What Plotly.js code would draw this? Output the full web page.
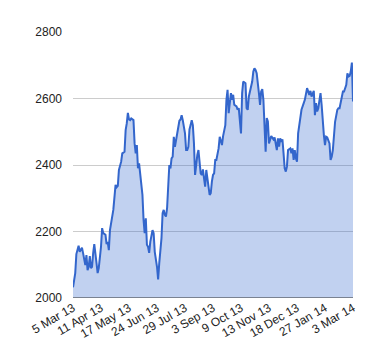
<!DOCTYPE html>
<html>
<head>
<meta charset="utf-8">
<script src="https://cdn.plot.ly/plotly-3.0.1.min.js"></script>
<style>html,body{margin:0;padding:0;background:#fff;}#chart{width:380px;height:360px;}</style>
</head>
<body>
<div id="chart"></div>
<script>
// trading-day index (0 = 5 Mar 13, 250 = 3 Mar 14)
const dayIndex = [0,2,3,5,6,8,9,11,12,13,14,15,16,17,18,19,21,22,23,25,26,27,29,30,31,32,33,35,36,38,39,40,41,43,44,46,47,48,49,50,51,52,54,55,56,57,58,59,60,61,62,63,64,65,66,67,68,69,71,72,73,75,76,77,78,79,80,81,82,83,84,85,86,87,88,89,90,91,92,93,94,95,96,97,98,100,101,102,103,104,105,106,107,108,109,110,111,112,113,114,115,116,117,118,119,120,121,122,123,124,125,126,127,128,130,131,132,133,134,135,136,137,138,139,140,141,142,143,144,146,147,148,150,151,152,154,155,156,157,158,160,161,162,163,164,166,167,168,169,170,171,172,173,174,175,176,177,179,180,182,183,184,185,186,187,188,189,190,191,192,194,195,196,197,198,199,200,201,203,204,206,207,209,210,211,212,213,215,216,217,218,219,220,221,222,223,224,225,226,227,229,230,231,232,233,234,236,237,238,240,241,242,244,245,246,247,248,249,250];
const closeValues = [2032,2075,2132,2157,2139,2151,2135,2099,2129,2084,2094,2126,2090,2094,2135,2162,2105,2075,2090,2154,2210,2195,2190,2162,2169,2144,2204,2255,2265,2340,2333,2337,2385,2410,2435,2440,2505,2525,2557,2537,2535,2540,2535,2465,2435,2460,2390,2405,2365,2340,2310,2235,2195,2240,2160,2154,2136,2169,2204,2195,2139,2094,2056,2104,2139,2180,2255,2265,2250,2245,2270,2345,2400,2390,2420,2425,2485,2455,2475,2485,2505,2533,2537,2550,2535,2495,2445,2445,2455,2507,2520,2535,2520,2465,2370,2410,2430,2445,2400,2375,2370,2387,2360,2335,2385,2365,2335,2310,2315,2350,2370,2375,2415,2415,2450,2485,2470,2460,2487,2510,2520,2596,2626,2556,2586,2616,2596,2611,2581,2576,2566,2571,2495,2616,2651,2646,2571,2566,2606,2621,2651,2681,2691,2686,2676,2616,2581,2621,2628,2596,2501,2440,2541,2531,2465,2475,2487,2477,2483,2445,2480,2455,2480,2470,2477,2435,2390,2380,2395,2445,2450,2435,2450,2415,2445,2420,2410,2495,2550,2566,2586,2596,2631,2621,2611,2623,2606,2623,2550,2586,2561,2571,2601,2616,2581,2520,2490,2460,2485,2483,2465,2415,2425,2445,2490,2530,2566,2571,2571,2606,2621,2621,2641,2676,2666,2668,2681,2708,2591];
const tickPositions = [0,25,50,75,100,125,150,175,200,225,250];
const tickLabels = ["5 Mar 13","11 Apr 13","17 May 13","24 Jun 13","29 Jul 13","3 Sep 13","9 Oct 13","13 Nov 13","18 Dec 13","27 Jan 14","3 Mar 14"];
const yTicks = [2000,2200,2400,2600,2800];

Plotly.newPlot('chart', [{
  x: dayIndex,
  y: closeValues,
  type: 'scatter',
  mode: 'lines',
  fill: 'tozeroy',
  fillcolor: 'rgba(51,102,204,0.3)',
  line: {color: '#3366cc', width: 2},
  hoverinfo: 'none'
}], {
  width: 380, height: 360,
  margin: {l: 73, r: 27, t: 32, b: 62},
  paper_bgcolor: '#fff', plot_bgcolor: '#fff',
  showlegend: false,
  font: {family: 'Liberation Sans, Arial, sans-serif', size: 12, color: '#222'},
  xaxis: {
    range: [0, 250],
    tickmode: 'array', tickvals: tickPositions, ticktext: tickLabels,
    tickangle: -30, showgrid: false, zeroline: false,
    showline: false, ticks: '',
    tickfont: {size: 12, color: '#222'}
  },
  yaxis: {
    range: [2000, 2800],
    tickmode: 'array', tickvals: yTicks,
    showgrid: true, gridcolor: '#cccccc', gridwidth: 1,
    zeroline: false, showline: false, ticks: '',
    ticklabelstandoff: 10,
    tickfont: {size: 12, color: '#222'}
  },
  shapes: [{type: 'line', xref: 'paper', yref: 'y', x0: 0, x1: 1, y0: 2000, y1: 2000, line: {color: '#333', width: 1}}]
}, {displayModeBar: false, staticPlot: true});
</script>
</body>
</html>
